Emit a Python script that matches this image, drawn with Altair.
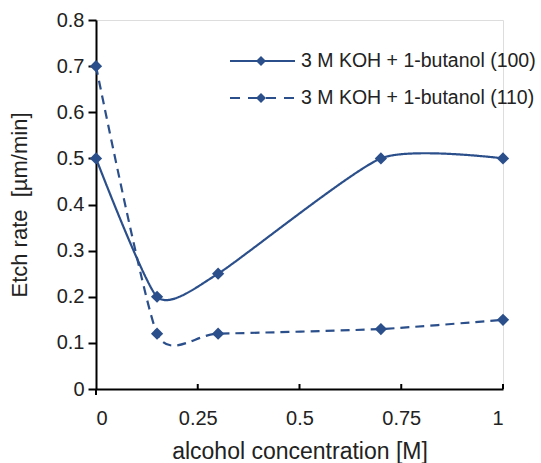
import altair as alt
import pandas as pd

conc = [0, 0.15, 0.3, 0.7, 1.0]
rate_100 = [0.5, 0.2, 0.25, 0.5, 0.5]
rate_110 = [0.7, 0.12, 0.12, 0.13, 0.15]
series = ["3 M KOH + 1-butanol (100)", "3 M KOH + 1-butanol (110)"]
x_ticks = [0, 0.25, 0.5, 0.75, 1]
y_ticks = [0, 0.1, 0.2, 0.3, 0.4, 0.5, 0.6, 0.7, 0.8]

C = "#2B4F8B"
FONT = "Liberation Sans"
W, H = 407, 369

df = pd.DataFrame({
    "x": conc + conc,
    "y": rate_100 + rate_110,
    "s": [series[0]] * len(conc) + [series[1]] * len(conc),
})

xs = alt.Scale(domain=[0, 1], nice=False)
ys = alt.Scale(domain=[0, 0.8], nice=False)
dash = alt.StrokeDash("s:N", scale=alt.Scale(domain=series, range=[[1, 0], [9, 6]]), legend=None)

base = alt.Chart(df)
lines = base.mark_line(interpolate="cardinal", tension=0.4, strokeWidth=2.2, color=C).encode(
    x=alt.X("x:Q", scale=xs, axis=alt.Axis(
        values=x_ticks, labelExpr="'' + datum.value", ticks=False, grid=False, domainColor="black",
        domainWidth=2, labelFontSize=20, labelPadding=19, labelColor="#222",
        title="alcohol concentration [M]", titleFontSize=23, titleFontWeight="normal",
        titlePadding=12, titleColor="#222", labelFont=FONT, titleFont=FONT)),
    y=alt.Y("y:Q", scale=ys, axis=alt.Axis(
        values=y_ticks, labelExpr="'' + datum.value", grid=False, domainColor="black", domainWidth=2,
        tickColor="black", tickWidth=2, tickSize=8, labelFontSize=20, labelPadding=4,
        labelColor="#222", title="Etch rate\u00a0\u00a0[µm/min]", titleFontSize=22,
        titleFontWeight="normal", titlePadding=25, titleColor="#222",
        labelFont=FONT, titleFont=FONT)),
    strokeDash=dash,
    detail="s:N",
)
points = base.mark_point(shape="diamond", filled=True, size=150, opacity=1, color=C).encode(
    x=alt.X("x:Q", scale=xs), y=alt.Y("y:Q", scale=ys), detail="s:N")

tick_df = pd.DataFrame({"x": x_ticks[1:]})
xticks = alt.Chart(tick_df).mark_rule(color="black", strokeWidth=2).encode(
    x=alt.X("x:Q", scale=xs), y=alt.value(H - 5), y2=alt.value(H))
zero_df = pd.DataFrame({"x": x_ticks[:1]})
xtick0 = alt.Chart(zero_df).mark_rule(color="black", strokeWidth=2).encode(
    x=alt.X("x:Q", scale=xs), y=alt.value(H), y2=alt.value(H + 6))

legend_layers = []
rows_y = [41, 78]
dashes = [[1, 0], [10, 8]]
for i, name in enumerate(series):
    ldf = pd.DataFrame({"s": [name]})
    legend_layers.append(alt.Chart(ldf).mark_rule(color=C, strokeWidth=2.2, strokeDash=dashes[i]).encode(
        x=alt.value(134), x2=alt.value(199), y=alt.value(rows_y[i])))
    legend_layers.append(alt.Chart(ldf).mark_point(shape="diamond", filled=True, size=100, opacity=1, color=C).encode(
        x=alt.value(165), y=alt.value(rows_y[i])))
    legend_layers.append(alt.Chart(ldf).mark_text(align="left", baseline="middle", fontSize=19.5, font=FONT, color="#222").encode(
        x=alt.value(205), y=alt.value(rows_y[i]), text="s:N"))

chart = alt.layer(lines, points, xticks, xtick0, *legend_layers).properties(
    width=W, height=H,
    autosize=alt.AutoSizeParams(type="none"),
    padding={"left": 96, "top": 20, "right": 38, "bottom": 74},
).configure_view(stroke=None).configure(background="white")

chart.save("out.html", embed_options={"renderer": "svg", "actions": False})
